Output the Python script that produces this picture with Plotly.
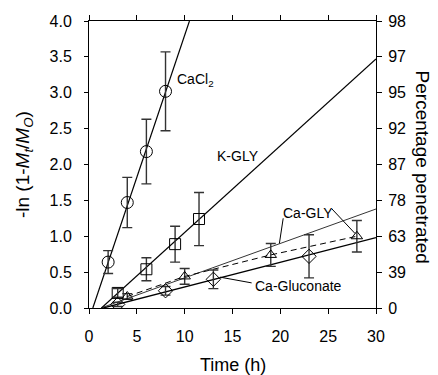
import plotly.graph_objects as go

# ---- data ----
cacl2_t = [2, 4, 6, 8]
cacl2_v = [0.64, 1.47, 2.18, 3.02]
cacl2_err = [0.16, 0.35, 0.45, 0.55]
cacl2_fit_t = [0.4, 10.5]
cacl2_fit_v = [0.0, 4.0]

kgly_t = [3, 6, 9, 11.5]
kgly_v = [0.21, 0.54, 0.89, 1.24]
kgly_err = [0.06, 0.16, 0.25, 0.37]
kgly_fit_t = [1.3, 30]
kgly_fit_v = [0.0, 3.47]

cagly_t = [4, 10, 19, 28]
cagly_v = [0.16, 0.44, 0.74, 1.0]
cagly_err = [0.04, 0.11, 0.16, 0.22]
cagly_fit_t = [1.25, 30]
cagly_fit_v = [0.0, 1.38]

cagluc_t = [3, 8, 13, 23]
cagluc_v = [0.05, 0.24, 0.40, 0.72]
cagluc_err = [0.03, 0.06, 0.13, 0.30]
cagluc_fit_t = [1.5, 30]
cagluc_fit_v = [0.0, 0.98]

x_ticks = [0, 5, 10, 15, 20, 25, 30]
y_ticks = [0, 0.5, 1.0, 1.5, 2.0, 2.5, 3.0, 3.5, 4.0]
pct_labels = ["0", "39", "63", "78", "87", "92", "95", "97", "98"]

FONT = "Liberation Sans, Arial, sans-serif"
BLACK = "black"

fig = go.Figure()

def fit_line(t, v, width=1.0, dash="solid"):
    fig.add_trace(go.Scatter(x=t, y=v, mode="lines",
                             line=dict(color=BLACK, width=width, dash=dash),
                             showlegend=False, hoverinfo="skip"))

def points(t, v, err, symbol, size, mode="markers", dash="solid"):
    fig.add_trace(go.Scatter(
        x=t, y=v, mode=mode,
        line=dict(color=BLACK, width=1, dash=dash),
        marker=dict(symbol=symbol, size=size, color=BLACK,
                    line=dict(color=BLACK, width=1)),
        error_y=dict(type="data", array=err, visible=True,
                     color="#333333", thickness=1.4, width=5),
        showlegend=False))

fit_line(cacl2_fit_t, cacl2_fit_v, 1.2)
fit_line(kgly_fit_t, kgly_fit_v, 1.2)
fit_line(cagly_fit_t, cagly_fit_v, 0.8)
fit_line(cagluc_fit_t, cagluc_fit_v, 1.3)

points(cacl2_t, cacl2_v, cacl2_err, "circle-open", 12)
points(kgly_t, kgly_v, kgly_err, "square-open", 11)
points(cagly_t, cagly_v, cagly_err, "triangle-up-open", 10,
       mode="lines+markers", dash="6px,4px")
points(cagluc_t, cagluc_v, cagluc_err, "diamond-open", 11)

# invisible trace to anchor the right axis
fig.add_trace(go.Scatter(x=[0], y=[0], yaxis="y2", mode="markers",
                         marker=dict(opacity=0), showlegend=False,
                         hoverinfo="skip"))

ann_font = dict(family=FONT, size=14, color=BLACK)
annotations = [
    dict(x=9.0, y=3.18, text="CaCl<sub>2</sub>", xanchor="left", yanchor="middle"),
    dict(x=13.2, y=2.12, text="K-GLY", xanchor="left", yanchor="middle"),
    dict(x=22.9, y=1.33, text="Ca-GLY", xanchor="center", yanchor="middle"),
    dict(x=17.1, y=0.31, text="Ca-Gluconate", xanchor="left", yanchor="middle"),
]
for a in annotations:
    a.update(xref="x", yref="y", showarrow=False, font=ann_font)

# leader lines
shapes = []
for (x0, y0, x1, y1) in [(20.3, 1.25, 19.9, 0.90),
                         (25.4, 1.38, 27.8, 1.04),
                         (17.0, 0.35, 13.7, 0.43)]:
    shapes.append(dict(type="line", xref="x", yref="y", x0=x0, y0=y0,
                       x1=x1, y1=y1, line=dict(color=BLACK, width=1)))

# axis titles
annotations.append(dict(text="Percentage penetrated", xref="paper", yref="paper",
                        x=1.163, y=0.49, textangle=90, showarrow=False,
                        xanchor="center", yanchor="middle",
                        font=dict(family=FONT, size=19, color=BLACK)))
annotations.append(dict(text="-ln (1-<i>M<sub>t</sub></i>/<i>M<sub>O</sub></i>)",
                        xref="paper", yref="paper",
                        x=-0.228, y=0.5, textangle=-90, showarrow=False,
                        xanchor="center", yanchor="middle",
                        font=dict(family=FONT, size=19, color=BLACK)))
annotations.append(dict(text="Time (h)", xref="paper", yref="paper",
                        x=0.5, y=-0.198, showarrow=False,
                        xanchor="center", yanchor="middle",
                        font=dict(family=FONT, size=18, color=BLACK)))

# the page body adds an 8px offset, so the figure is 8px smaller than the window
fig.update_layout(
    width=430, height=367,
    margin=dict(l=81, r=62, t=13, b=67),
    paper_bgcolor="white", plot_bgcolor="white",
    font=dict(family=FONT, size=16, color=BLACK),
    annotations=annotations, shapes=shapes,
    xaxis=dict(range=[0, 30], tickvals=x_ticks, automargin=False,
               ticks="outside", ticklen=5, tickcolor=BLACK,
               ticklabelstandoff=9,
               showline=True, linecolor=BLACK, linewidth=1, mirror="ticks",
               showgrid=False, zeroline=False),
    yaxis=dict(range=[0, 4], tickvals=y_ticks, tickformat=".1f",
               automargin=False,
               ticks="outside", ticklen=4, tickcolor=BLACK,
               ticklabelstandoff=9,
               showline=True, linecolor=BLACK, linewidth=1, mirror=True,
               showgrid=False, zeroline=False),
    yaxis2=dict(range=[0, 4], overlaying="y", side="right", automargin=False,
                tickvals=y_ticks, ticktext=pct_labels,
                ticks="outside", ticklen=5, tickcolor=BLACK,
                ticklabelstandoff=3,
                showline=True, linecolor=BLACK, linewidth=1,
                showgrid=False, zeroline=False),
)

fig.write_html("out.html")
